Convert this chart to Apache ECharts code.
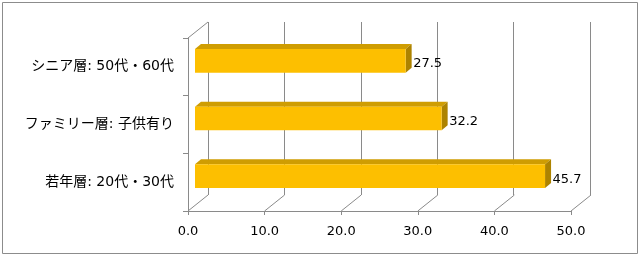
<!DOCTYPE html>
<html>
<head>
<meta charset="utf-8">
<script src="https://cdn.jsdelivr.net/npm/echarts@6/dist/echarts.min.js"></script>
<style>
html,body{margin:0;padding:0;background:#fff;}
#c{width:640px;height:256px;}
</style>
</head>
<body>
<div id="c"></div>
<script>
// Data
const categories = ['若年層: 20代・30代', 'ファミリー層: 子供有り', 'シニア層: 50代・60代'];
const values = [45.7, 32.2, 27.5];
const xTicks = [0, 10, 20, 30, 40, 50];

const FONT = '"DejaVu Sans", "Noto Sans CJK JP", sans-serif';
const GRID_COLOR = '#8a8a8a';
const DEPTH_X = 20, DEPTH_Y = -16;   // wall depth offset
const BAR_OFF_X = 7, BAR_OFF_Y = -6; // bar placement inside depth
const BAR_DX = 6, BAR_DY = -5;       // bar thickness

const chart = echarts.init(document.getElementById('c'), null, {renderer: 'canvas'});

const barData = values.map((v, i) => [v, i]);
const diagData = xTicks.map(t => [t, 0]);

chart.setOption({
  animation: false,
  backgroundColor: '#fff',
  graphic: [{
    type: 'rect',
    shape: {x: 2.5, y: 2.5, width: 635, height: 251},
    style: {fill: 'none', stroke: '#8c8c8c', lineWidth: 1},
    silent: true, z: -10
  }],
  grid: [
    {left: 188, right: 69, top: 38, bottom: 45},
    {left: 208, right: 50, top: 22, bottom: 61}
  ],
  xAxis: [
    {
      gridIndex: 0, type: 'value', min: 0, max: 50, interval: 10,
      axisLine: {show: true, lineStyle: {color: GRID_COLOR}},
      axisTick: {show: true, length: 4, lineStyle: {color: GRID_COLOR}},
      splitLine: {show: false},
      axisLabel: {
        margin: 14, fontSize: 13, color: '#000', fontFamily: FONT,
        formatter: v => v.toFixed(1)
      }
    },
    {
      gridIndex: 1, type: 'value', min: 0, max: 50, interval: 10,
      axisLine: {show: false}, axisTick: {show: false}, axisLabel: {show: false},
      splitLine: {show: true, lineStyle: {color: GRID_COLOR, width: 1}}
    }
  ],
  yAxis: [
    {
      gridIndex: 0, type: 'category', data: categories,
      axisLine: {show: true, lineStyle: {color: GRID_COLOR}},
      axisTick: {show: true, length: 5, lineStyle: {color: GRID_COLOR}},
      axisLabel: {margin: 14, fontSize: 14, color: '#000', fontFamily: FONT}
    },
    {
      gridIndex: 1, type: 'category', data: categories,
      show: false
    }
  ],
  series: [
    {
      type: 'custom',
      xAxisIndex: 0, yAxisIndex: 0,
      data: diagData,
      silent: true,
      z: 1,
      renderItem: function (params, api) {
        const cs = params.coordSys;
        const p = api.coord([api.value(0), 0]);
        const bottom = cs.y + cs.height;
        const children = [{
          type: 'line',
          shape: {x1: p[0], y1: bottom, x2: p[0] + DEPTH_X, y2: bottom + DEPTH_Y},
          style: {stroke: GRID_COLOR, lineWidth: 1}
        }];
        if (params.dataIndex === 0) {
          children.push({
            type: 'line',
            shape: {x1: cs.x, y1: cs.y, x2: cs.x + DEPTH_X, y2: cs.y + DEPTH_Y},
            style: {stroke: GRID_COLOR, lineWidth: 1}
          });
        }
        return {type: 'group', children: children};
      }
    },
    {
      type: 'custom',
      xAxisIndex: 0, yAxisIndex: 0,
      data: barData,
      z: 5,
      renderItem: function (params, api) {
        const v = api.value(0), idx = api.value(1);
        const p0 = api.coord([0, idx]);
        const p1 = api.coord([v, idx]);
        const band = api.size([0, 1])[1];
        const h = band * 0.41;
        const x0 = p0[0] + BAR_OFF_X, x1 = p1[0] + BAR_OFF_X;
        const cy = p0[1] + BAR_OFF_Y;
        const yt = cy - h / 2, yb = cy + h / 2;
        return {
          type: 'group',
          children: [
            {
              type: 'polygon',
              shape: {points: [[x0, yt], [x1, yt], [x1 + BAR_DX, yt + BAR_DY], [x0 + BAR_DX, yt + BAR_DY]]},
              style: {fill: '#cf9d02'}
            },
            {
              type: 'polygon',
              shape: {points: [[x1, yt], [x1 + BAR_DX, yt + BAR_DY], [x1 + BAR_DX, yb + BAR_DY], [x1, yb]]},
              style: {fill: '#ad8300'}
            },
            {
              type: 'rect',
              shape: {x: x0, y: yt, width: x1 - x0, height: yb - yt},
              style: {fill: '#fdbf00'}
            },
            {
              type: 'text',
              style: {
                x: x1 + BAR_DX + 1.5, y: cy + 3,
                text: v.toFixed(1),
                fill: '#000', fontSize: 13, fontFamily: FONT,
                align: 'left', verticalAlign: 'middle'
              }
            }
          ]
        };
      }
    }
  ]
});
</script>
</body>
</html>
